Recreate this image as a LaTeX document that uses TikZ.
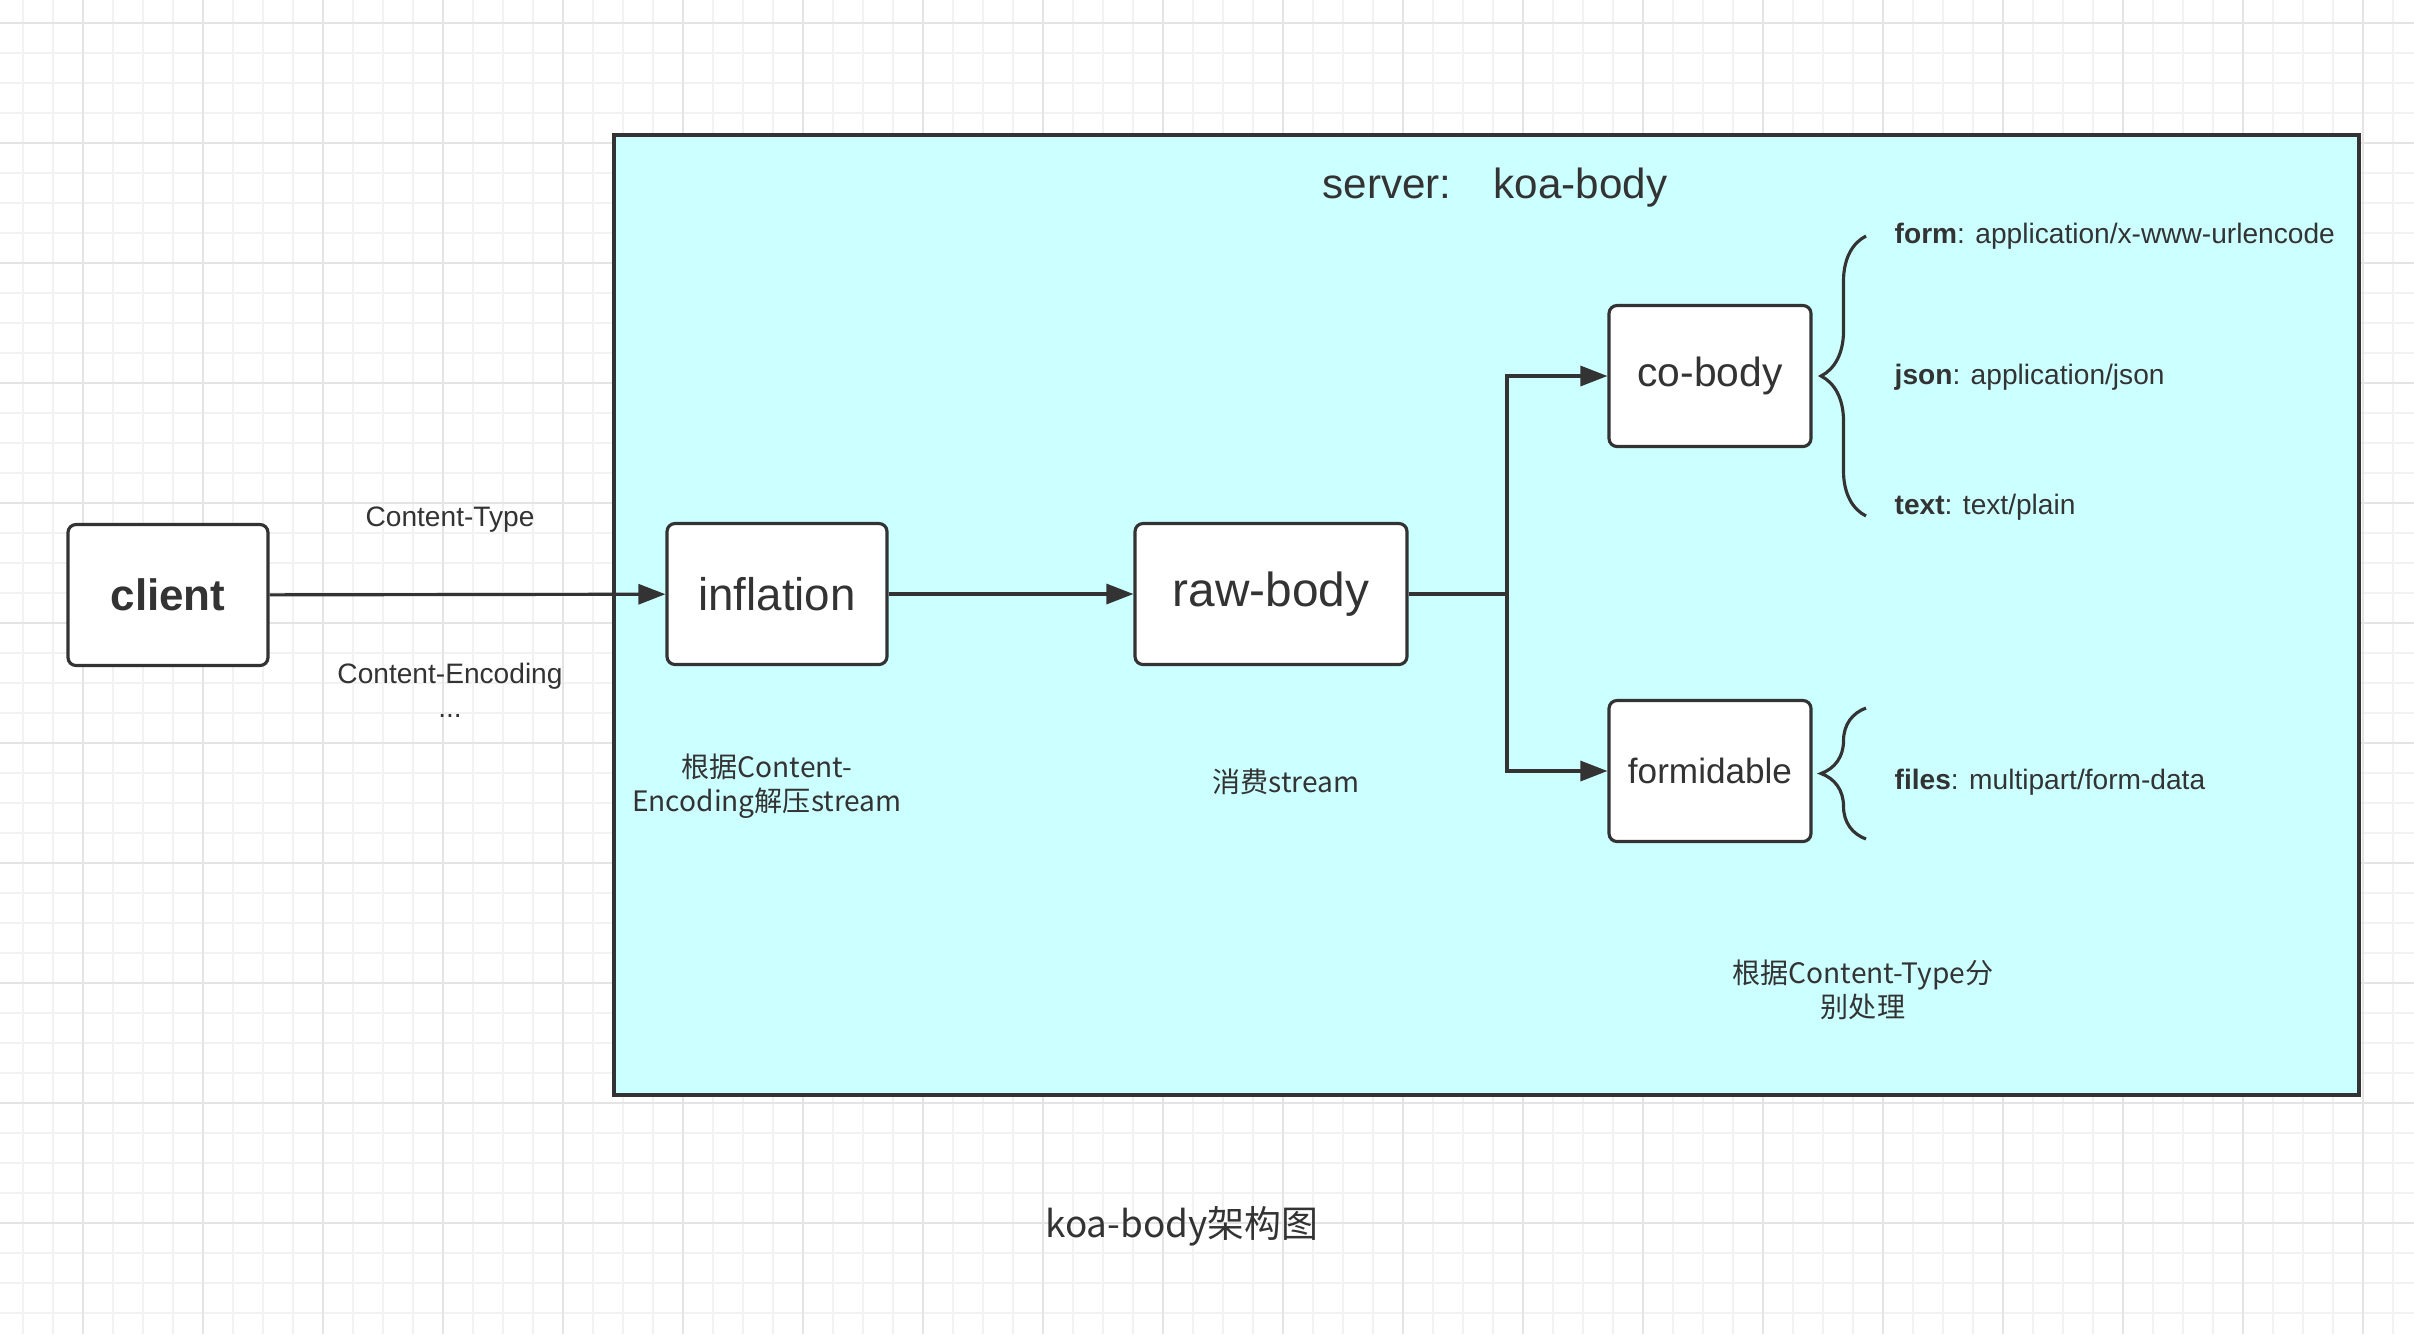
\documentclass[tikz,border=0pt]{standalone}
\usepackage{fontspec}
\setmainfont{Liberation Sans}
\newfontfamily\cjk{Noto Sans CJK SC}
\usetikzlibrary{arrows.meta,decorations.pathreplacing}

\definecolor{inkgray}{HTML}{333333}
\definecolor{servercyan}{HTML}{CCFFFF}
\definecolor{gridminor}{HTML}{F2F2F2}
\definecolor{gridmajor}{HTML}{E4E4E4}

\tikzset{
  procbox/.style={draw=inkgray, line width=0.9pt, fill=white, rounded corners=0.8mm,
    minimum height=14.1mm, inner sep=0pt, text=inkgray, font=\fontsize{13}{15}\selectfont},
  flow/.style={draw=inkgray, line width=0.9pt, -{Triangle[length=2.7mm,width=2mm]}},
  note/.style={text=inkgray, align=center, inner sep=0pt, font=\fontsize{8}{9.6}\selectfont},
  cjknote/.style={note, font=\cjk\fontsize{8}{9.6}\selectfont},
  typenote/.style={text=inkgray, anchor=west, inner sep=0pt, font=\fontsize{8}{9.6}\selectfont},
  bracket/.style={draw=inkgray, line width=0.9pt, decorate, decoration={brace, amplitude=4.5mm}}
}

\begin{document}
\begin{tikzpicture}[x=0.1mm, y=-0.1mm]
    \useasboundingbox (0,0) rectangle (2414,1334);
    \fill[white] (0,0) rectangle (2414,1334);
    % background grid
    \foreach \x in {23,53,...,2414} \draw[gridminor, line width=0.4pt] (\x,0) -- (\x,1334);
    \foreach \y in {23,53,...,1334} \draw[gridminor, line width=0.4pt] (0,\y) -- (2414,\y);
    \foreach \x in {83,203,...,2414} \draw[gridmajor, line width=0.5pt] (\x,0) -- (\x,1334);
    \foreach \y in {23,143,...,1334} \draw[gridmajor, line width=0.5pt] (0,\y) -- (2414,\y);

    % server area
    \draw[inkgray, fill=servercyan, line width=0.9pt] (614,135) rectangle (2359,1095);
    \node[text=inkgray, font=\fontsize{12}{14}\selectfont] (title) at (1495,188) {server:\hspace{1em}koa-body};

    \node[procbox, minimum width=20mm, font=\bfseries\fontsize{12.5}{15}\selectfont] (client) at (168,595) {client};
    \node[procbox, minimum width=22mm] (inflation) at (777,594) {inflation};
    \node[procbox, minimum width=27.2mm, font=\fontsize{13.6}{15}\selectfont] (rawbody) at (1271,594) {raw-body};
    \node[procbox, minimum width=20.2mm, font=\fontsize{11.6}{14}\selectfont] (cobody) at (1710,376) {co-body};
    \node[procbox, minimum width=20.2mm, font=\fontsize{10}{12}\selectfont] (formidable) at (1710,771) {formidable};
    \coordinate (split) at (1507,594);

    \draw[flow] (client) -- (inflation);
    \draw[flow] (inflation) -- (rawbody);
    \draw[inkgray, line width=0.9pt] (rawbody) -- (split);
    \draw[flow] (split) |- (cobody);
    \draw[flow] (split) |- (formidable);

    \node[note] (ctype) at (450,520) {Content-Type};
    \node[note] (cenc) at (450,690) {Content-Encoding\\...};
    \node[cjknote] (inflnote) at (767,786) {根据Content-\\Encoding解压stream};
    \node[cjknote] (rawnote) at (1286,782) {消费stream};
    \node[cjknote] (typesplit) at (1863,990) {根据Content-Type分\\别处理};

    % braces
    \draw[bracket] (1866,516) -- (1866,236);
    \draw[bracket] (1866,839) -- (1866,708);
    \node[typenote] (form) at (1894,236) {\textbf{form}: application/x-www-urlencode};
    \node[typenote] (json) at (1894,377) {\textbf{json}: application/json};
    \node[typenote] (text) at (1894,507) {\textbf{text}: text/plain};
    \node[typenote] (files) at (1894,782) {\textbf{files}: multipart/form-data};

    \node[text=inkgray, font=\cjk\fontsize{10.5}{12}\selectfont] (caption) at (1182,1226) {koa-body架构图};
  \end{tikzpicture}
\end{document}
